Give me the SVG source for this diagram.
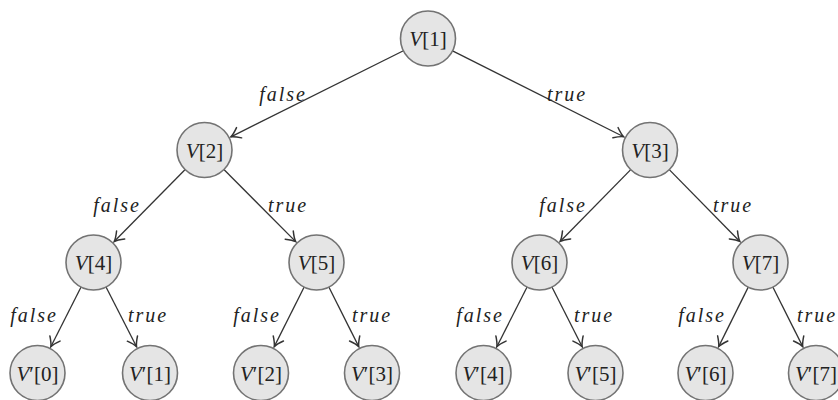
<svg xmlns="http://www.w3.org/2000/svg" width="838" height="400" viewBox="0 0 838 400">
  <defs>
    <marker id="arrow" markerUnits="userSpaceOnUse" markerWidth="16" markerHeight="16" viewBox="-10 -7 12 14" refX="0" refY="0" orient="auto">
      <path d="M-8,-5 Q-3,-1 0,0 Q-3,1 -8,5" fill="none" stroke="#333" stroke-width="1.3" stroke-linecap="round"/>
    </marker>
    <style>
      .node circle { fill: #e5e5e5; stroke: #737373; stroke-width: 1.6; }
      .node text { font-size: 21px; fill: #222; text-anchor: middle; }
      .it { font-style: italic; }
      .edges line { stroke: #333; stroke-width: 1.3; marker-end: url(#arrow); }
      .lbl { font-style: italic; font-size: 20px; fill: #222; letter-spacing: 2px; }
      .lbl.f { text-anchor: end; }
    </style>
  </defs>
  <rect width="838" height="400" fill="#ffffff"/>

  <!-- connectors -->
  <g id="edges" class="edges">
    <line x1="403.39" y1="50.78" x2="230.9" y2="136.83"/>
    <line x1="452.57" y1="50.84" x2="623.64" y2="136.76"/>
    <line x1="185.18" y1="169.57" x2="114.22" y2="241.5"/>
    <line x1="223.9" y1="169.49" x2="295.69" y2="241.59"/>
    <line x1="630.73" y1="169.62" x2="560.17" y2="241.45"/>
    <line x1="669.27" y1="169.62" x2="739.83" y2="241.45"/>
    <line x1="81.07" y1="287.03" x2="50.83" y2="346.69"/>
    <line x1="106.02" y1="286.99" x2="136.57" y2="346.73"/>
    <line x1="304.16" y1="287.08" x2="274.24" y2="346.64"/>
    <line x1="328.84" y1="287.08" x2="358.76" y2="346.64"/>
    <line x1="527.07" y1="287.03" x2="496.83" y2="346.69"/>
    <line x1="551.93" y1="287.03" x2="582.17" y2="346.69"/>
    <line x1="748.25" y1="287.12" x2="718.65" y2="346.59"/>
    <line x1="772.84" y1="287.08" x2="802.76" y2="346.64"/>
  </g>

  <!-- edge labels -->
  <g id="edge-labels" font-family="Liberation Serif, Times New Roman, Tinos, Noto Serif, DejaVu Serif, serif">
    <text class="lbl f" x="307" y="101">false</text>
    <text class="lbl" x="547" y="101">true</text>
    <text class="lbl f" x="141" y="212">false</text>
    <text class="lbl" x="268" y="212">true</text>
    <text class="lbl f" x="587" y="212">false</text>
    <text class="lbl" x="713" y="212">true</text>
    <text class="lbl f" x="58" y="322">false</text>
    <text class="lbl" x="128" y="322">true</text>
    <text class="lbl f" x="281" y="322">false</text>
    <text class="lbl" x="352" y="322">true</text>
    <text class="lbl f" x="504" y="322">false</text>
    <text class="lbl" x="574" y="322">true</text>
    <text class="lbl f" x="726" y="322">false</text>
    <text class="lbl" x="797" y="322">true</text>
  </g>

  <g font-family="Liberation Serif, Times New Roman, Tinos, Noto Serif, DejaVu Serif, serif">
  <!-- internal nodes -->
  <g id="v1" class="node"><circle cx="428" cy="38.5" r="27.5"/><text x="428" y="46"><tspan class="it">V</tspan>[1]</text></g>
  <g id="v2" class="node"><circle cx="204.5" cy="150" r="27.5"/><text x="204.5" y="157.5"><tspan class="it">V</tspan>[2]</text></g>
  <g id="v3" class="node"><circle cx="650" cy="150" r="27.5"/><text x="650" y="157.5"><tspan class="it">V</tspan>[3]</text></g>
  <g id="v4" class="node"><circle cx="93.5" cy="262.5" r="27.5"/><text x="93.5" y="270"><tspan class="it">V</tspan>[4]</text></g>
  <g id="v5" class="node"><circle cx="316.5" cy="262.5" r="27.5"/><text x="316.5" y="270"><tspan class="it">V</tspan>[5]</text></g>
  <g id="v6" class="node"><circle cx="539.5" cy="262.5" r="27.5"/><text x="539.5" y="270"><tspan class="it">V</tspan>[6]</text></g>
  <g id="v7" class="node"><circle cx="760.5" cy="262.5" r="27.5"/><text x="760.5" y="270"><tspan class="it">V</tspan>[7]</text></g>

  <!-- leaf nodes -->
  <g id="w0" class="node"><circle cx="37.5" cy="373" r="27.5"/><text x="37.5" y="380.5"><tspan class="it">V</tspan>′[0]</text></g>
  <g id="w1" class="node"><circle cx="150" cy="373" r="27.5"/><text x="150" y="380.5"><tspan class="it">V</tspan>′[1]</text></g>
  <g id="w2" class="node"><circle cx="261" cy="373" r="27.5"/><text x="261" y="380.5"><tspan class="it">V</tspan>′[2]</text></g>
  <g id="w3" class="node"><circle cx="372" cy="373" r="27.5"/><text x="372" y="380.5"><tspan class="it">V</tspan>′[3]</text></g>
  <g id="w4" class="node"><circle cx="483.5" cy="373" r="27.5"/><text x="483.5" y="380.5"><tspan class="it">V</tspan>′[4]</text></g>
  <g id="w5" class="node"><circle cx="595.5" cy="373" r="27.5"/><text x="595.5" y="380.5"><tspan class="it">V</tspan>′[5]</text></g>
  <g id="w6" class="node"><circle cx="705.5" cy="373" r="27.5"/><text x="705.5" y="380.5"><tspan class="it">V</tspan>′[6]</text></g>
  <g id="w7" class="node"><circle cx="816" cy="373" r="27.5"/><text x="816" y="380.5"><tspan class="it">V</tspan>′[7]</text></g>
  </g>
</svg>
